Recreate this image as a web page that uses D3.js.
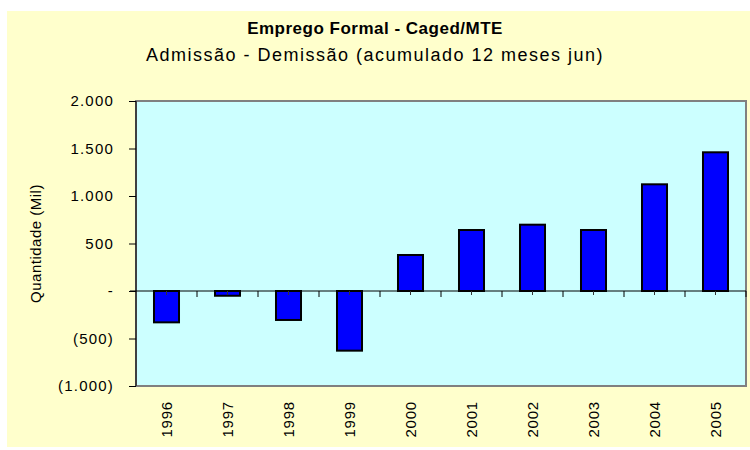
<!DOCTYPE html>
<html>
<head>
<meta charset="utf-8">
<script src="https://cdn.jsdelivr.net/npm/d3@7"></script>
<style>
  body { margin: 0; background: #fff; }
  text { font-family: "Liberation Sans", Arial, sans-serif; }
</style>
</head>
<body>
<svg id="chart" width="750" height="450"></svg>
<script>
// dados (mil)
const anos = ["1996", "1997", "1998", "1999", "2000", "2001", "2002", "2003", "2004", "2005"];
const saldo = [-330, -50, -305, -628, 379, 642, 698, 642, 1123, 1460];
const yTicks = [-1000, -500, 0, 500, 1000, 1500, 2000];

const svg = d3.select("#chart");
const fmt = d3.format(",.0f");
const ptBR = (v) => {
  if (v === 0) return "-";
  const s = fmt(Math.abs(v)).replace(/,/g, ".");
  return v < 0 ? `(${s})` : s;
};

// fundo amarelo do gráfico
svg.append("rect")
  .attr("x", 7).attr("y", 11)
  .attr("width", 743).attr("height", 436)
  .attr("fill", "#FFFFCC");

const plot = { left: 136, top: 101, right: 746, bottom: 386 };

const x = d3.scaleBand()
  .domain(anos)
  .range([plot.left, plot.right])
  .paddingInner(0.59)
  .paddingOuter(0.295);

const y = d3.scaleLinear()
  .domain([-1000, 2000])
  .range([plot.bottom, plot.top]);

// área de plotagem
svg.append("rect")
  .attr("x", plot.left).attr("y", plot.top)
  .attr("width", plot.right - plot.left)
  .attr("height", plot.bottom - plot.top)
  .attr("fill", "#CCFFFF")
  .attr("stroke", "#808080")
  .attr("stroke-width", 2);

// títulos
svg.append("text")
  .attr("x", 375).attr("y", 34)
  .attr("text-anchor", "middle")
  .style("font-size", "17px")
  .style("font-weight", "bold")
  .style("letter-spacing", "0.5px")
  .text("Emprego Formal - Caged/MTE");

svg.append("text")
  .attr("x", 375).attr("y", 61)
  .attr("text-anchor", "middle")
  .style("font-size", "18px")
  .style("letter-spacing", "1.5px")
  .text("Admissão - Demissão (acumulado 12 meses jun)");

// eixo Y
const yAxis = svg.append("g")
  .attr("transform", `translate(${plot.left},0)`)
  .call(d3.axisLeft(y).tickValues(yTicks).tickFormat(ptBR).tickSize(7).tickPadding(15));
yAxis.select(".domain").remove();
yAxis.selectAll("line").attr("stroke", "#000");
yAxis.selectAll("text")
  .style("font-size", "15px")
  .style("letter-spacing", "1.2px")
  .style("font-family", "Liberation Sans, Arial, sans-serif")
  .attr("fill", "#000");

svg.append("line")
  .attr("x1", plot.left).attr("x2", plot.left)
  .attr("y1", plot.top).attr("y2", plot.bottom)
  .attr("stroke", "#000");

svg.append("text")
  .attr("transform", `translate(41,${(plot.top + plot.bottom) / 2}) rotate(-90)`)
  .attr("text-anchor", "middle")
  .style("font-size", "15px")
  .style("letter-spacing", "0.5px")
  .text("Quantidade (Mil)");

// barras
svg.append("g")
  .selectAll("rect")
  .data(anos.map((a, i) => ({ ano: a, v: saldo[i] })))
  .join("rect")
  .attr("x", (d) => x(d.ano))
  .attr("width", x.bandwidth())
  .attr("y", (d) => y(Math.max(0, d.v)))
  .attr("height", (d) => Math.abs(y(d.v) - y(0)))
  .attr("fill", "#0000FF")
  .attr("stroke", "#000")
  .attr("stroke-width", 2);

// linha do zero e marcas das categorias
const y0 = y(0);
svg.append("line")
  .attr("x1", plot.left - 6).attr("x2", plot.right)
  .attr("y1", y0).attr("y2", y0)
  .attr("stroke", "#000");

const step = x.step();
const bordas = d3.range(anos.length + 1).map((i) => plot.left + i * step);
svg.append("g")
  .selectAll("line")
  .data(bordas.slice(1))
  .join("line")
  .attr("x1", (d) => d).attr("x2", (d) => d)
  .attr("y1", y0).attr("y2", y0 + 6)
  .attr("stroke", "#000");

// marcas curtas no centro de cada categoria
svg.append("g")
  .selectAll("line")
  .data(anos)
  .join("line")
  .attr("x1", (d) => x(d) + x.bandwidth() / 2)
  .attr("x2", (d) => x(d) + x.bandwidth() / 2)
  .attr("y1", y0).attr("y2", y0 + 4)
  .attr("stroke", "#333");

// rótulos dos anos
svg.append("g")
  .selectAll("text")
  .data(anos)
  .join("text")
  .attr("transform", (d) => `translate(${x(d) + x.bandwidth() / 2 + 5},401) rotate(-90)`)
  .attr("text-anchor", "end")
  .style("font-size", "15px")
  .style("letter-spacing", "0.8px")
  .text((d) => d);
</script>
</body>
</html>
